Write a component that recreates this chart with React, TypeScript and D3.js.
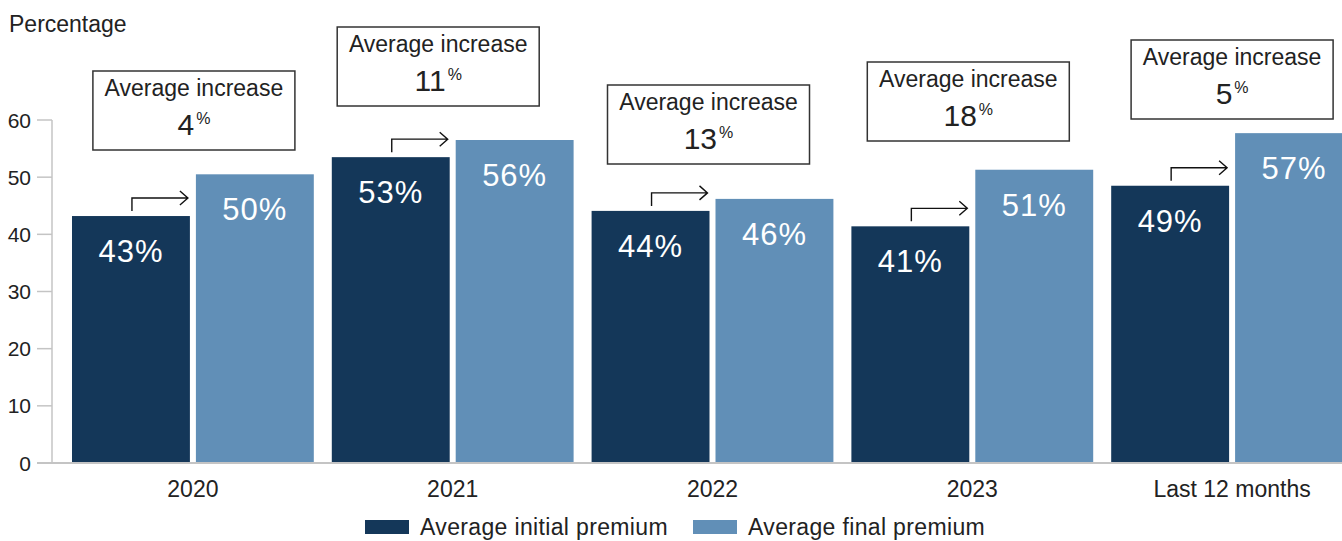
import React from "react";
import * as d3 from "d3";

const categories = ["2020", "2021", "2022", "2023", "Last 12 months"];
const initialPremium = [43.2, 53.5, 44.1, 41.4, 48.5];
const finalPremium = [50.5, 56.5, 46.2, 51.3, 57.7];
const initialLabels = ["43%", "53%", "44%", "41%", "49%"];
const finalLabels = ["50%", "56%", "46%", "51%", "57%"];
const increaseLabels = ["4", "11", "13", "18", "5"];
const yTicks = [0, 10, 20, 30, 40, 50, 60];
const seriesNames = ["Average initial premium", "Average final premium"];

// annotation box layout (offset from group centre, box top in px)
const boxDx = [1, -14.5, -4, -4, 0];
const boxTop = [71, 27, 85, 62, 40];

const W = 1342;
const H = 541;
const DARK = "#143759";
const LIGHT = "#618fb7";
const AXIS = "#c4c4c4";
const TEXT = "#222";
const FONT = "'Liberation Sans', Arial, sans-serif";

export default function App() {
  const x = d3.scaleBand<string>().domain(categories).range([63, 63 + 259.8 * 5]).paddingInner(0).paddingOuter(0);
  const sub = d3
    .scaleBand<string>()
    .domain(["initial", "final"])
    .range([0, x.bandwidth()])
    .paddingInner(0.0484)
    .paddingOuter(0.0726);
  const y = d3.scaleLinear().domain([0, 60]).range([463, 120]);
  const axisX = 52;

  const bw = sub.bandwidth();
  const boxW = 202;
  const boxH = 79;

  return (
    <svg
      width={W}
      height={H}
      style={{ position: "absolute", left: 0, top: 0, fontFamily: FONT }}
    >
      <text x={9} y={32} fontSize={23} fill={TEXT}>
        Percentage
      </text>

      {/* y axis */}
      <line x1={axisX} x2={axisX} y1={y(60)} y2={y(0)} stroke={AXIS} strokeWidth={1.5} />
      {yTicks.map((t) => (
        <g key={t}>
          <line x1={axisX - 15} x2={axisX} y1={y(t)} y2={y(t)} stroke={AXIS} strokeWidth={1.5} />
          <text x={31} y={y(t) + 7.5} fontSize={21} fill={TEXT} textAnchor="end">
            {t}
          </text>
        </g>
      ))}

      {/* bars */}
      {categories.map((c, i) => {
        const gx = x(c)!;
        const x0 = gx + sub("initial")!;
        const x1 = gx + sub("final")!;
        const t0 = y(initialPremium[i]);
        const t1 = y(finalPremium[i]);
        const ax = x0 + bw / 2 + 1;
        const ay = t0 - 18;
        const aend = x0 + bw - 2;
        return (
          <g key={c}>
            <rect x={x0} y={t0} width={bw} height={y(0) - t0} fill={DARK} />
            <rect x={x1} y={t1} width={bw} height={y(0) - t1} fill={LIGHT} />
            <text x={x0 + bw / 2} y={t0 + 46} fontSize={31} fill="#fff" textAnchor="middle" letterSpacing={1}>
              {initialLabels[i]}
            </text>
            <text x={x1 + bw / 2} y={t1 + 46} fontSize={31} fill="#fff" textAnchor="middle" letterSpacing={1}>
              {finalLabels[i]}
            </text>
            <path
              d={`M${ax},${t0 - 5}V${ay}H${aend}M${aend - 8},${ay - 7}L${aend},${ay}L${aend - 8},${ay + 7}`}
              fill="none"
              stroke="#111"
              strokeWidth={1.4}
            />
          </g>
        );
      })}

      {/* baseline */}
      <line x1={axisX - 15} x2={W} y1={y(0)} y2={y(0)} stroke={AXIS} strokeWidth={2} />

      {/* x labels */}
      {categories.map((c) => (
        <text key={c} x={x(c)! + x.bandwidth() / 2} y={497} fontSize={23} fill={TEXT} textAnchor="middle">
          {c}
        </text>
      ))}

      {/* annotation boxes */}
      {categories.map((c, i) => {
        const cx = x(c)! + x.bandwidth() / 2 + boxDx[i];
        const top = boxTop[i];
        return (
          <g key={"b" + c}>
            <rect x={cx - boxW / 2} y={top} width={boxW} height={boxH} fill="#fff" stroke="#333" strokeWidth={1.5} />
            <text x={cx} y={top + 25} fontSize={23} fill={TEXT} textAnchor="middle">
              Average increase
            </text>
            <text x={cx} y={top + 64} fontSize={30} fill={TEXT} textAnchor="middle">
              {increaseLabels[i]}
              <tspan fontSize={16} dy={-11} dx={2}>
                %
              </tspan>
            </text>
          </g>
        );
      })}

      {/* legend */}
      <rect x={365} y={520} width={44} height={14} fill={DARK} />
      <text x={420} y={535} fontSize={23} fill={TEXT} letterSpacing={0.35}>
        {seriesNames[0]}
      </text>
      <rect x={693} y={520} width={44} height={14} fill={LIGHT} />
      <text x={748} y={535} fontSize={23} fill={TEXT} letterSpacing={0.35}>
        {seriesNames[1]}
      </text>
    </svg>
  );
}
